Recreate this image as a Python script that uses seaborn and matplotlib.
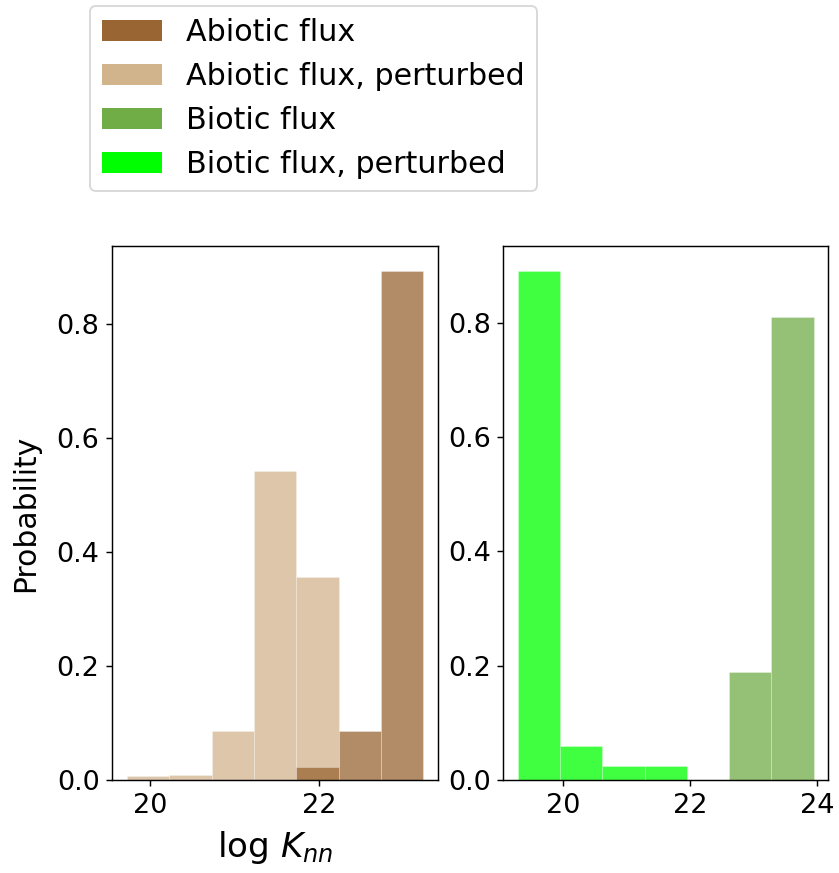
import numpy as np
import matplotlib
matplotlib.use("Agg")
import matplotlib.pyplot as plt
from matplotlib.patches import Patch
import seaborn as sns

# Binned probability distributions of log K_nn
abiotic_pert_edges = [19.73, 20.23, 20.73, 21.23, 21.73, 22.23]
abiotic_pert_prob = [0.007, 0.009, 0.086, 0.542, 0.356]

abiotic_edges = [21.73, 22.23, 22.73, 23.23]
abiotic_prob = [0.022, 0.086, 0.892]

biotic_pert_edges = [19.29, 19.954, 20.618, 21.282, 21.946]
biotic_pert_prob = [0.890, 0.060, 0.025, 0.025]

biotic_edges = [22.61, 23.275, 23.94]
biotic_prob = [0.189, 0.811]

labels = ["Abiotic flux", "Abiotic flux, perturbed",
          "Biotic flux", "Biotic flux, perturbed"]
colors = ["#996633", "#D2B48C", "#70AD47", "#00FF00"]

left_xticks = [20, 22]
right_xticks = [20, 22, 24]
yticks = [0.0, 0.2, 0.4, 0.6, 0.8]

DPI = 130
fig = plt.figure(figsize=(839 / DPI, 873 / DPI), dpi=DPI)
ax1 = fig.add_axes([0.1338, 0.1065, 0.3886, 0.6117])
ax2 = fig.add_axes([0.5999, 0.1065, 0.3874, 0.6117])


def centers(edges):
    e = np.asarray(edges)
    return (e[:-1] + e[1:]) / 2


def draw(ax, edges, prob, color):
    sns.histplot(x=centers(edges), weights=prob, bins=edges, stat="probability",
                 color=color, alpha=0.75, edgecolor=(1, 1, 1, 0.5), linewidth=0.3, ax=ax)


draw(ax1, abiotic_pert_edges, abiotic_pert_prob, colors[1])
draw(ax1, abiotic_edges, abiotic_prob, colors[0])
draw(ax2, biotic_edges, biotic_prob, colors[2])
draw(ax2, biotic_pert_edges, biotic_pert_prob, colors[3])

for ax, xt in ((ax1, left_xticks), (ax2, right_xticks)):
    ax.set_xticks(xt)
    ax.set_yticks(yticks)
    ax.tick_params(labelsize=15)
    ax.set_xlabel("")
    ax.set_ylabel("")

ax1.set_ylabel("Probability", fontsize=16.5, labelpad=9)
ax1.set_xlabel("log $K_{nn}$", fontsize=19, labelpad=6)

handles = [Patch(facecolor=c, label=l) for c, l in zip(colors, labels)]
fig.legend(handles=handles, loc="upper left", bbox_to_anchor=(90 / 839, 1 - 5.7 / 873),
           borderaxespad=0, fontsize=16.7)

fig.savefig("out.png", dpi=DPI)
